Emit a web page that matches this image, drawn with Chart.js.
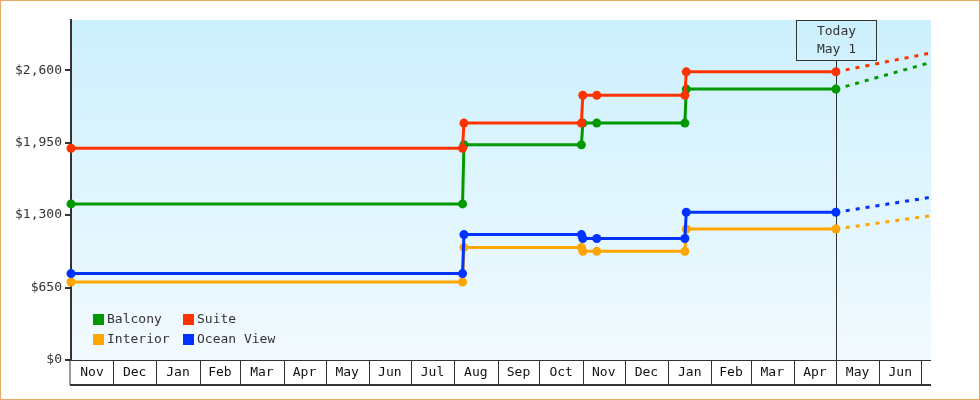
<!DOCTYPE html>
<html><head><meta charset="utf-8">
<style>html,body{margin:0;padding:0;background:#fff;}canvas{display:block;}</style>
<script src="https://cdn.jsdelivr.net/npm/chart.js@4.4.1/dist/chart.umd.min.js"></script>
</head><body>
<canvas id="c" width="980" height="400" style="width:980px;height:400px"></canvas>
<script>
// ---- data ----
const startDate = '2023-11-01';
const endDate = '2025-07-08';
const todayDate = '2025-05-01';
const todayText = ['Today', 'May 1'];
const obsDates = ['2023-11-01','2024-08-07','2024-08-08','2024-10-31','2024-11-01','2024-11-11','2025-01-13','2025-01-14','2025-05-01'];
const balcony   = [1400,1400,1930,1930,2125,2125,2125,2430,2430];
const suite     = [1900,1900,2125,2125,2375,2375,2375,2585,2585];
const interior  = [700,700,1010,1010,975,975,975,1175,1175];
const oceanView = [775,775,1125,1125,1090,1090,1090,1325,1325];
const projDates = ['2025-05-01','2025-07-08'];
const balconyProj   = [2430,2670];
const suiteProj     = [2585,2755];
const interiorProj  = [1175,1295];
const oceanViewProj = [1325,1460];
const yTicks = [0,650,1300,1950,2600];
const yMax = 3050;
const monthLabels = ['Nov','Dec','Jan','Feb','Mar','Apr','May','Jun','Jul','Aug','Sep','Oct','Nov','Dec','Jan','Feb','Mar','Apr','May','Jun','Jul'];
const seriesNames = ['Balcony','Suite','Interior','Ocean View'];
const seriesColors = ['#009900','#ff3300','#ffa500','#0033ff'];

// ---- helpers ----
const FONT = '"DejaVu Sans Mono", monospace';
const toUTC = s => Date.parse(s + 'T00:00:00Z');
const dayOf = s => (toUTC(s) - toUTC(startDate)) / 86400000;
const pts = (dates, vals) => dates.map((d, i) => ({x: dayOf(d), y: vals[i]}));
const seriesVals = {Balcony: balcony, Suite: suite, Interior: interior, 'Ocean View': oceanView};
const seriesProj = {Balcony: balconyProj, Suite: suiteProj, Interior: interiorProj, 'Ocean View': oceanViewProj};
const colorOf = n => seriesColors[seriesNames.indexOf(n)];
const drawOrder = ['Suite','Balcony','Ocean View','Interior']; // first = on top

const datasets = [];
drawOrder.forEach(n => {
  datasets.push({label: n, data: pts(obsDates, seriesVals[n]), borderColor: colorOf(n), backgroundColor: colorOf(n),
    borderWidth: 3, pointRadius: 4.5, pointBorderWidth: 0, pointBackgroundColor: colorOf(n), tension: 0, clip: false});
});
drawOrder.forEach(n => {
  datasets.push({label: n + ' (proj)', proj: true, data: pts(projDates, seriesProj[n]), borderColor: colorOf(n),
    borderWidth: 3, borderDash: [4, 6], pointRadius: 0, tension: 0});
});

const decor = {
  id: 'decor',
  beforeDraw(chart) {
    const {ctx, chartArea: a} = chart;
    ctx.save();
    ctx.fillStyle = '#fff';
    ctx.fillRect(0, 0, chart.width, chart.height);
    const g = ctx.createLinearGradient(0, a.top, 0, a.bottom);
    g.addColorStop(0, '#ccf0fd');
    g.addColorStop(1, '#f2faff');
    ctx.fillStyle = g;
    ctx.fillRect(a.left, a.top, a.right - a.left, a.bottom - a.top);
    ctx.restore();
  },
  beforeDatasetsDraw(chart) {
    const {ctx, chartArea: a, scales: {x}} = chart;
    const tx = Math.round(x.getPixelForValue(dayOf(todayDate))) + 0.5;
    ctx.save();
    ctx.strokeStyle = '#333';
    ctx.lineWidth = 1;
    ctx.beginPath();
    ctx.moveTo(tx, a.top + 40);
    ctx.lineTo(tx, a.bottom);
    ctx.stroke();
    ctx.restore();
  },
  afterDatasetsDraw(chart) {
    const {ctx, chartArea: a, scales: {x}} = chart;
    const tx = Math.round(x.getPixelForValue(dayOf(todayDate))) + 0.5;
    ctx.save();
    ctx.strokeStyle = '#333';
    ctx.lineWidth = 1;
    ctx.strokeRect(tx - 40, a.top + 0.5, 80, 40);
    ctx.fillStyle = '#333';
    ctx.font = '13px ' + FONT;
    ctx.textAlign = 'center';
    ctx.textBaseline = 'middle';
    ctx.fillText(todayText[0], tx, a.top + 12);
    ctx.fillText(todayText[1], tx, a.top + 30);
    ctx.restore();
  },
  afterDraw(chart) {
    const {ctx, chartArea: a, scales: {x}} = chart;
    ctx.save();
    // month row
    const top = a.bottom, bot = a.bottom + 25;
    ctx.strokeStyle = '#333';
    ctx.lineWidth = 1;
    ctx.beginPath();
    ctx.moveTo(a.left, top + 0.5); ctx.lineTo(a.right, top + 0.5);
    ctx.moveTo(a.left - 1, Math.round(a.bottom) + 0.5); ctx.lineTo(a.left - 1, bot);
    ctx.stroke();
    ctx.lineWidth = 2;
    ctx.beginPath();
    ctx.moveTo(a.left - 1, bot); ctx.lineTo(a.right, bot);
    ctx.stroke();
    ctx.lineWidth = 1;
    ctx.font = '13px ' + FONT;
    ctx.fillStyle = '#111';
    ctx.textAlign = 'center';
    ctx.textBaseline = 'middle';
    const s = new Date(toUTC(startDate));
    for (let i = 0; i < monthLabels.length; i++) {
      const m0 = Date.UTC(s.getUTCFullYear(), s.getUTCMonth() + i, 1);
      const m1 = Date.UTC(s.getUTCFullYear(), s.getUTCMonth() + i + 1, 1);
      const d0 = (m0 - toUTC(startDate)) / 86400000;
      const d1 = (m1 - toUTC(startDate)) / 86400000;
      const x0 = x.getPixelForValue(Math.max(d0, x.min));
      const x1 = x.getPixelForValue(Math.min(d1, x.max));
      if (i > 0 && d0 <= x.max) {
        const px = Math.round(x0) + 0.5;
        ctx.beginPath(); ctx.moveTo(px, top); ctx.lineTo(px, bot); ctx.stroke();
      }
      if (x1 - x0 > 30) ctx.fillText(monthLabels[i], (x0 + x1) / 2, top + 13);
    }
    // legend
    ctx.textAlign = 'left';
    seriesNames.forEach((n, i) => {
      const col = i % 2, row = Math.floor(i / 2);
      const lx = a.left + 22 + col * 90;
      const ly = a.bottom - 46 + row * 20;
      ctx.fillStyle = seriesColors[i];
      ctx.fillRect(lx, ly, 11, 11);
      ctx.fillStyle = '#333';
      ctx.fillText(n, lx + 14, ly + 6);
    });
    // outer frame
    ctx.strokeStyle = '#eaa862';
    ctx.lineWidth = 1;
    ctx.strokeRect(0.5, 0.5, chart.width - 1, chart.height - 1);
    ctx.restore();
  }
};

new Chart(document.getElementById('c'), {
  type: 'line',
  data: {datasets},
  options: {
    responsive: false,
    animation: false,
    events: [],
    layout: {padding: {top: 20, right: 49, bottom: 40, left: 0}},
    plugins: {legend: {display: false}, tooltip: {enabled: false}},
    scales: {
      x: {type: 'linear', min: 0, max: dayOf(endDate), display: false},
      y: {
        type: 'linear', min: 0, max: yMax,
        afterBuildTicks: s => { s.ticks = yTicks.map(v => ({value: v})); },
        afterFit: s => { s.width = 71; },
        grid: {drawOnChartArea: false, drawTicks: true, tickLength: 6, color: '#333', lineWidth: 2},
        border: {display: true, color: '#333', width: 2},
        ticks: {padding: 3, color: '#333', font: {family: FONT, size: 13},
          callback: v => '$' + Number(v).toLocaleString('en-US')}
      }
    }
  },
  plugins: [decor]
});
</script>
</body></html>
